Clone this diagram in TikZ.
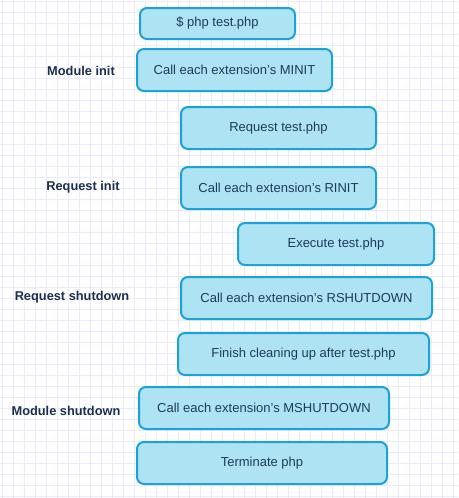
\documentclass[tikz,border=0pt]{standalone}
\usepackage{fontspec}
\setmainfont{Liberation Sans}
\usetikzlibrary{positioning}
\definecolor{gridline}{HTML}{EBEBFF}
\definecolor{boxfill}{HTML}{AEE3F3}
\definecolor{boxline}{HTML}{1BA3D8}
\definecolor{boxtext}{HTML}{1E3A5A}
\definecolor{phasetext}{HTML}{1B2F4F}

\begin{document}
\begin{tikzpicture}[
      x=1pt, y=-1pt,
      block/.style={rectangle, rounded corners=7pt, draw=boxline, line width=2pt, fill=boxfill,
                    minimum width=195pt, minimum height=42pt, text=boxtext,
                    font=\fontsize{13}{15}\selectfont, text centered},
      phase/.style={text=phasetext, font=\fontsize{12.8}{15}\selectfont\bfseries}
  ]
      \useasboundingbox (0,0) rectangle (458,498);
      % Background grid
      \fill[white] (0,0) rectangle (458,498);
      \foreach \gx in {0,...,41} \draw[gridline, line width=0.8pt] (2+11*\gx,0) -- (2+11*\gx,498);
      \foreach \gy in {0,...,45} \draw[gridline, line width=0.8pt] (0,1.3+11*\gy) -- (458,1.3+11*\gy);

      % Lifecycle boxes
      \node[block, minimum width=155pt, minimum height=31pt] (cmd) at (217.5,23.5) {\$ php test.php};
      \node[block] (minit) at (234.5,70) {Call each extension's MINIT};
      \node[block] (req) at (278.5,128) {Request test.php};
      \node[block] (rinit) at (278.5,188) {Call each extension's RINIT};
      \node[block, minimum width=196pt] (exec) at (336,244) {Execute test.php};
      \node[block, minimum width=251pt] (rshut) at (306.5,298) {Call each extension's RSHUTDOWN};
      \node[block, minimum width=251pt] (clean) at (303.5,354) {Finish cleaning up after test.php};
      \node[block, minimum width=250pt] (mshut) at (264,408) {Call each extension's MSHUTDOWN};
      \node[block, minimum width=250pt] (term) at (262,463) {Terminate php};

      % Phase labels
      \node[phase] (lmi) at (81,71) {Module init};
      \node[phase] (lri) at (83,187) {Request init};
      \node[phase] (lrs) at (72,297) {Request shutdown};
      \node[phase] (lms) at (66,411) {Module shutdown};
  \end{tikzpicture}
\end{document}
